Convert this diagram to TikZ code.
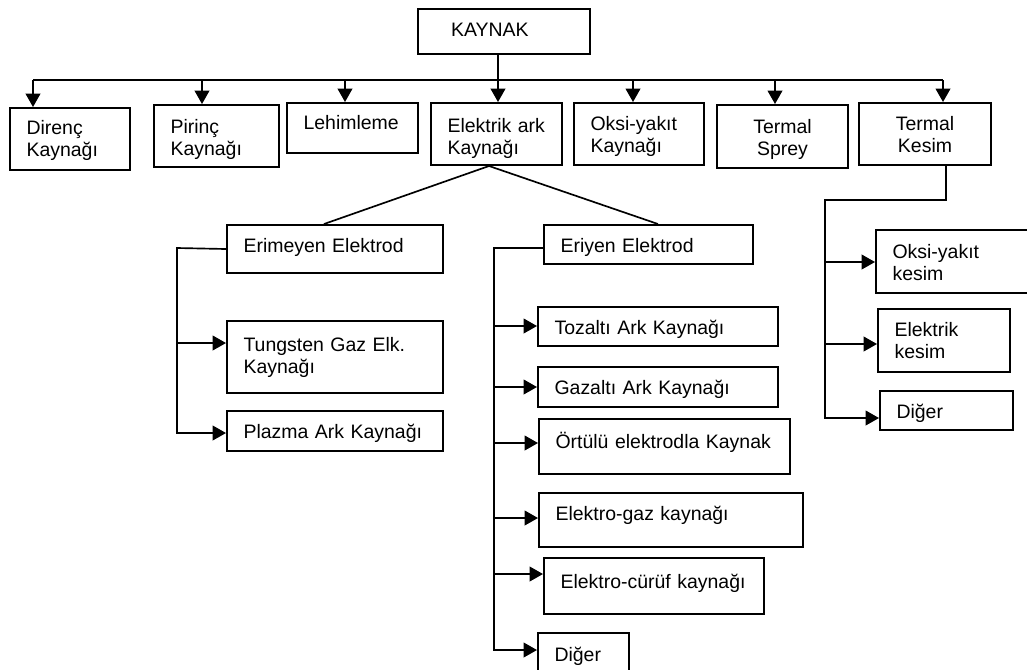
\documentclass[tikz,border=0pt]{standalone}
\usepackage{fontspec}
\setmainfont{Liberation Sans}
\usetikzlibrary{arrows.meta}
\tikzset{
  box/.style={draw, line width=1.5pt, anchor=north west, inner xsep=12.4pt, inner ysep=0pt,
    align=left, font=\fontsize{14.6}{17}\selectfont},
  ln/.style={line width=1.25pt},
  arr/.style={line width=1.25pt, -{Triangle[length=10pt,width=11pt]}},
}
% #2 name, #3 left, #4 top, #5 right, #6 bottom, #7 first baseline, #8 text
\newcommand\wbox[8][]{%
  \pgfmathsetlengthmacro\wbW{(#5-#3)*0.75pt-24.8pt}%
  \pgfmathsetlengthmacro\wbH{(#7-#4)*0.75pt}%
  \pgfmathsetlengthmacro\wbD{(#6-#7)*0.75pt}%
  \node[box, text width=\wbW, text height=\wbH, text depth=\wbD, #1] (#2) at (#3,#4) {#8};}
\begin{document}
\begin{tikzpicture}[x=0.75pt,y=-0.75pt]
\useasboundingbox (0,0) rectangle (1027,669);
\clip (0,0) rectangle (1027,669);
\fill[white] (0,0) rectangle (1027,669);

% boxes
\wbox{kaynak}{417}{8}{589}{53}{35}{\hspace*{12.4pt}KAYNAK}
\wbox{direnc}{9}{107}{129}{169}{133}{Direnç\\Kaynağı}
\wbox{pirinc}{153}{104}{278}{166}{132}{Pirinç\\Kaynağı}
\wbox{lehim}{286}{102}{417}{152}{128}{\mbox{Lehimleme}}
\wbox{ark}{430}{102}{561}{164}{131}{\mbox{Elektrik ark}\\Kaynağı}
\wbox{oksi}{573}{102}{703}{164}{129}{Oksi-yakıt\\Kaynağı}
\wbox[align=center]{sprey}{716}{104}{847}{167}{132}{Termal\\Sprey}
\wbox[align=center]{kesim}{858}{102}{990}{164}{129}{Termal\\Kesim}

\wbox{erim}{226}{224}{442}{272}{251}{Erimeyen Elektrod}
\wbox{tung}{226}{320}{442}{392}{350}{\makebox[\linewidth][s]{Tungsten Gaz Elk.}\\Kaynağı}
\wbox{plazma}{226}{410}{442}{450}{437}{\mbox{Plazma Ark Kaynağı}}

\wbox{eriy}{543}{224}{752}{263}{251}{Eriyen Elektrod}
\wbox{toz}{537}{306}{777}{345}{333}{Tozaltı Ark Kaynağı}
\wbox{gaz}{537}{366}{777}{406}{393}{Gazaltı Ark Kaynağı}
\wbox{ortulu}{538}{418}{789}{473}{447}{\mbox{Örtülü elektrodla Kaynak}}
\wbox{egaz}{538}{492}{802}{546}{519}{Elektro-gaz kaynağı}
\wbox{curuf}{543}{557}{763}{613}{587}{\mbox{Elektro-cürüf kaynağı}}
\wbox{digerA}{537}{632}{628}{680}{660}{Diğer}

\wbox{okesim}{875}{229}{1040}{292}{257}{Oksi-yakıt\\kesim}
\wbox{ekesim}{877}{308}{1009}{371}{335}{Elektrik\\kesim}
\wbox{digerB}{879}{390}{1012}{429}{417}{Diğer}

% top bus
\coordinate (t1) at (33,80);
\coordinate (t2) at (202,80);
\coordinate (t3) at (345,80);
\coordinate (tA) at (498,80);
\coordinate (t5) at (633,80);
\coordinate (t6) at (775,80);
\coordinate (t7) at (943,80);
\draw[ln] (t1) -- (t7);
\draw[arr] (tA |- kaynak.south) -- (tA |- ark.north);
\draw[arr] (t1) -- (t1 |- direnc.north);
\draw[arr] (t2) -- (t2 |- pirinc.north);
\draw[arr] (t3) -- (t3 |- lehim.north);
\draw[arr] (t5) -- (t5 |- oksi.north);
\draw[arr] (t6) -- (t6 |- sprey.north);
\draw[arr] (t7) -- (t7 |- kesim.north);

% electric arc split
\draw[ln] ([xshift=-5.6pt]ark.south) -- ([xshift=-8.25pt]erim.north);
\draw[ln] ([xshift=-5.6pt]ark.south) -- ([xshift=7.1pt]eriy.north);

% Erimeyen branch
\coordinate (ea) at (177,248);
\coordinate (eb) at (177,343);
\coordinate (ec) at (177,433);
\draw[arr] (erim.west) -- (ea) -- (ec) -- (ec -| plazma.west);
\draw[arr] (eb) -- (eb -| tung.west);

% Eriyen branch
\coordinate (ra) at (494,248);
\coordinate (r1) at (494,326);
\coordinate (r2) at (494,387);
\coordinate (r3) at (494,443);
\coordinate (r4) at (494,518);
\coordinate (r5) at (494,574);
\coordinate (r6) at (494,650);
\draw[arr] (ra -| eriy.west) -- (ra) -- (r6) -- (r6 -| digerA.west);
\draw[arr] (r1) -- (r1 -| toz.west);
\draw[arr] (r2) -- (r2 -| gaz.west);
\draw[arr] (r3) -- (r3 -| ortulu.west);
\draw[arr] (r4) -- (r4 -| egaz.west);
\draw[arr] (r5) -- (r5 -| curuf.west);

% Termal kesim branch
\coordinate (ka) at (946,200);
\coordinate (kb) at (825,200);
\coordinate (k1) at (825,262);
\coordinate (k2) at (825,344);
\coordinate (k3) at (825,418);
\draw[arr] (ka |- kesim.south) -- (ka) -- (kb) -- (k3) -- (k3 -| digerB.west);
\draw[arr] (k1) -- (k1 -| okesim.west);
\draw[arr] (k2) -- (k2 -| ekesim.west);
\end{tikzpicture}
\end{document}
